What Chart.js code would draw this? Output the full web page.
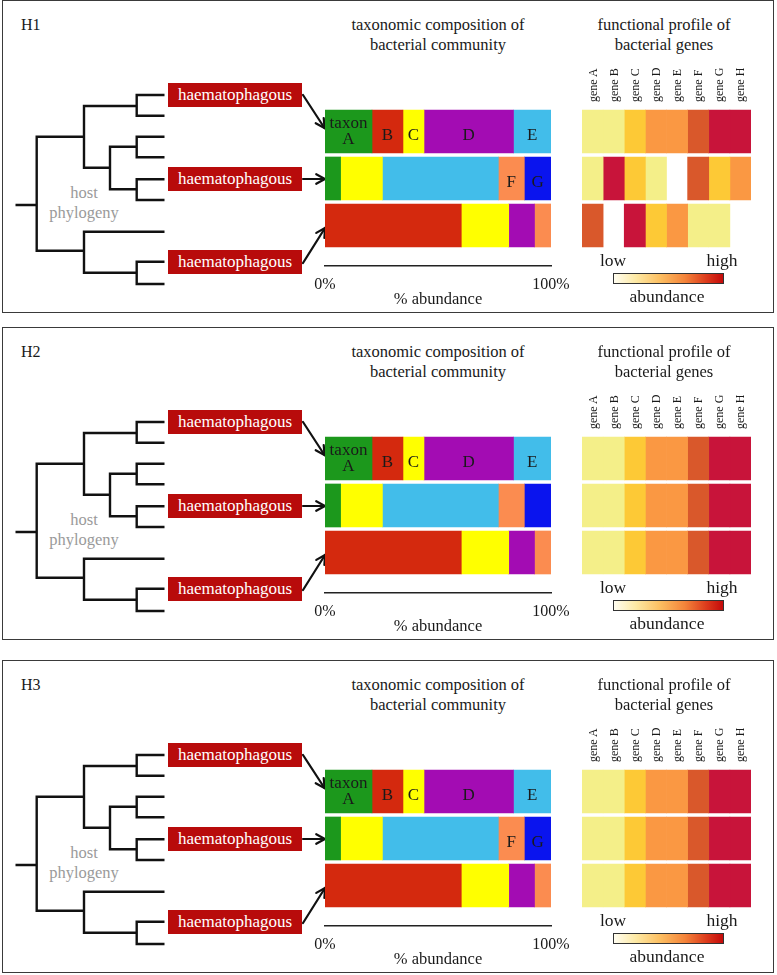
<!DOCTYPE html>
<html>
<head>
<meta charset="utf-8">
<script src="https://cdn.jsdelivr.net/npm/chart.js@4.4.1/dist/chart.umd.min.js"></script>
<style>
  body { margin: 0; background: #fff; font-family: "Liberation Serif", "Times New Roman", serif; color: #1a1a1a; }
  #page { position: relative; width: 777px; height: 975px; overflow: hidden; }
  .panel { position: absolute; left: 0; width: 777px; height: 316px; }
  .frame { position: absolute; left: 2px; top: 0; width: 772px; height: 313px; border: 1.5px solid #3a3a3a; box-sizing: border-box; }
  .t { position: absolute; white-space: nowrap; line-height: 1; transform: translate(-50%, -50%); }
  .host { position: absolute; left: 168px; width: 134px; height: 24px; background: #b80b0b; color: #fff;
          font-size: 17px; line-height: 24px; text-align: center; }
  .gene { position: absolute; top: 102px; font-size: 12px; line-height: 1; white-space: nowrap;
          transform-origin: 0 0; transform: rotate(-90deg) translateY(-50%); }
  .scale { position: absolute; left: 613px; top: 273px; width: 111px; height: 11px; box-sizing: border-box;
           border: 1px solid #333;
           background: linear-gradient(to right, #fffdf0, #fde9a4 20%, #fcbf62 42%, #f4843a 65%, #dc3a1c 85%, #c40a0a); }
  canvas { position: absolute; }
  svg { position: absolute; left: 0; top: 0; }
</style>
</head>
<body>
<div id="page"></div>
<script>
// --- data ---
const hypotheses = ['H1', 'H2', 'H3'];
const hostRows = [1, 2, 3];              // the three haematophagous hosts

const taxonNames = ['taxon\nA', 'B', 'C', 'D', 'E', 'F', 'G'];
const taxonColors = ['#1c981c', '#d4290e', '#ffff00', '#a30cb3', '#42bdea', '#fb8c50', '#0a14ee'];
// % abundance of each taxon in host 1, 2, 3
const abundA = [20.8, 6.9, null];
const abundB = [13.7, null, 60.3];
const abundC = [9.3, 18.5, 21.0];
const abundD = [39.6, null, 11.4];
const abundE = [16.6, 51.3, null];
const abundF = [null, 11.5, 7.3];
const abundG = [null, 11.8, null];
const abundance = [abundA, abundB, abundC, abundD, abundE, abundF, abundG];
const taxonTextRow = [0, 0, 0, 0, 0, 1, 1];   // bar in which the taxon letter is written
const labelSecondRow = [true, false, true];

const genes = ['gene A', 'gene B', 'gene C', 'gene D', 'gene E', 'gene F', 'gene G', 'gene H'];
// abundance level 0 (absent) .. 5 (high), one row per host
const heatH1 = [[1, 1, 2, 3, 3, 4, 5, 5], [1, 5, 2, 1, 0, 4, 2, 3], [4, 0, 5, 2, 3, 1, 1, 0]];
const heatH2 = [[1, 1, 2, 3, 3, 4, 5, 5], [1, 1, 2, 3, 3, 4, 5, 5], [1, 1, 2, 3, 3, 4, 5, 5]];
const heatH3 = [[1, 1, 2, 3, 3, 4, 5, 5], [1, 1, 2, 3, 3, 4, 5, 5], [1, 1, 2, 3, 3, 4, 5, 5]];
const heatByPanel = [heatH1, heatH2, heatH3];
const heatColors = ['rgba(0,0,0,0)', '#f4ef89', '#fdc936', '#fa9843', '#d9582b', '#c8143a'];

// --- layout ---
const panelTop = [0, 327, 660];
const rowMin = 0.33, rowMax = 3.862;   // hidden host axis, 47px per host

Chart.defaults.font.family = '"Liberation Serif", "Times New Roman", serif';
Chart.defaults.color = '#1a1a1a';
Chart.defaults.animation = false;

// letters written inside the composition bars
const segLabels = {
  id: 'segLabels',
  afterDatasetsDraw(chart, args, opts) {
    const ctx = chart.ctx;
    ctx.save();
    ctx.font = '17px "Liberation Serif", serif';
    ctx.fillStyle = '#1a1a1a';
    ctx.textAlign = 'center';
    ctx.textBaseline = 'middle';
    chart.data.datasets.forEach((ds, i) => {
      const row = taxonTextRow[i];
      if (row === 1 && !opts.row2) return;
      if (ds.data[row] == null) return;
      const bar = chart.getDatasetMeta(i).data[row];
      const cx = (bar.x + bar.base) / 2;
      const lines = taxonNames[i].split('\n');
      if (lines.length === 2) {
        ctx.fillText(lines[0], cx, bar.y - 8);
        ctx.fillText(lines[1], cx, bar.y + 8);
      } else {
        ctx.fillText(lines[0], cx, bar.y + 4);
      }
    });
    ctx.restore();
  }
};

// host axis: fixed range so that each host gets the same band
function hiddenRows() {
  return {
    type: 'linear', min: rowMin, max: rowMax, reverse: true, stacked: true, display: false,
    offset: false, bounds: 'data', grace: 0, beginAtZero: false,
    afterBuildTicks: s => {
      s.ticks = hostRows.map(v => ({ value: v }));
      s.min = rowMin;
      s.max = rowMax;
    }
  };
}

function compositionChart(canvas, row2) {
  return new Chart(canvas, {
    type: 'bar',
    data: {
      labels: hostRows,
      datasets: abundance.map((vals, i) => ({
        label: taxonNames[i],
        data: vals,
        backgroundColor: taxonColors[i],
        borderWidth: 0,
        barThickness: 43
      }))
    },
    options: {
      indexAxis: 'y',
      responsive: false,
      layout: { padding: { left: 30, right: 34, top: 0, bottom: 0 } },
      scales: {
        y: hiddenRows(),
        x: {
          type: 'linear', min: 0, max: 100, stacked: true, position: 'bottom',
          grid: { display: false, drawTicks: false },
          border: { display: true, color: '#222', width: 1.5 },
          ticks: { stepSize: 100, callback: v => v + '%', font: { size: 16 }, padding: 9, maxRotation: 0, color: '#1a1a1a' },
          title: { display: true, text: '% abundance', font: { size: 16.5 }, padding: 0, color: '#1a1a1a' },
          afterFit: s => { s.height = 44; }
        }
      },
      plugins: { legend: { display: false }, tooltip: { enabled: false }, segLabels: { row2: row2 } }
    },
    plugins: [segLabels]
  });
}

function profileChart(canvas, heat) {
  return new Chart(canvas, {
    type: 'bar',
    data: {
      labels: hostRows,
      datasets: genes.map((g, j) => ({
        label: g,
        data: hostRows.map(() => 1),
        backgroundColor: heat.map(r => heatColors[r[j]]),
        borderWidth: 0,
        barThickness: 43
      }))
    },
    options: {
      indexAxis: 'y',
      responsive: false,
      layout: { padding: 0 },
      scales: {
        y: hiddenRows(),
        x: { type: 'linear', min: 0, max: genes.length, stacked: true, display: false }
      },
      plugins: { legend: { display: false }, tooltip: { enabled: false } }
    }
  });
}

function addText(parent, text, x, y, size, extra) {
  const d = document.createElement('div');
  d.className = 't';
  d.textContent = text;
  d.style.left = x + 'px';
  d.style.top = y + 'px';
  d.style.fontSize = size + 'px';
  if (extra) Object.assign(d.style, extra);
  parent.appendChild(d);
  return d;
}

function addCanvas(parent, x, y, w, h) {
  const c = document.createElement('canvas');
  c.width = w; c.height = h;
  c.style.left = x + 'px'; c.style.top = y + 'px';
  parent.appendChild(c);
  return c;
}

// host tree, same in every panel
const treePath = [
  'M16.7 205 H36.7', 'M36.7 136.7 V250.7',
  'M36.7 136.7 H84', 'M84 106 V167.7',
  'M84 106 H136.7', 'M136.7 95 V115.7', 'M136.7 95 H163.3', 'M136.7 115.7 H163.3',
  'M84 167.7 H110', 'M110 146.7 V189.3',
  'M110 146.7 H136.7', 'M136.7 136.7 V157.3', 'M136.7 136.7 H163.3', 'M136.7 157.3 H163.3',
  'M110 189.3 H136.7', 'M136.7 179.3 V200', 'M136.7 179.3 H163.3', 'M136.7 200 H163.3',
  'M36.7 250.7 H84', 'M84 231.7 V272.7', 'M84 231.7 H163.3',
  'M84 272.7 H136.7', 'M136.7 261.7 V284', 'M136.7 261.7 H163.3', 'M136.7 284 H163.3'
].join(' ');

const hostBoxTop = [83, 167, 250];
const arrows = [[303, 95, 324.5, 128], [303, 179, 325, 179], [303, 263, 325, 228]];

function arrowSvg(a) {
  const [x1, y1, x2, y2] = a;
  const ang = Math.atan2(y2 - y1, x2 - x1);
  const len = 10, spread = 0.5;
  const p1 = [x2 - len * Math.cos(ang - spread), y2 - len * Math.sin(ang - spread)];
  const p2 = [x2 - len * Math.cos(ang + spread), y2 - len * Math.sin(ang + spread)];
  return `<line x1="${x1}" y1="${y1}" x2="${x2}" y2="${y2}" />` +
         `<polyline fill="none" points="${p1.join(',')} ${x2},${y2} ${p2.join(',')}" />`;
}

const page = document.getElementById('page');

hypotheses.forEach((h, p) => {
  const panel = document.createElement('div');
  panel.className = 'panel';
  panel.style.top = panelTop[p] + 'px';
  page.appendChild(panel);

  const frame = document.createElement('div');
  frame.className = 'frame';
  panel.appendChild(frame);

  addText(panel, h, 21, 25, 16, { transform: 'translate(0, -50%)' });

  // tree + arrows
  const svgNS = 'http://www.w3.org/2000/svg';
  const svg = document.createElementNS(svgNS, 'svg');
  svg.setAttribute('width', 777);
  svg.setAttribute('height', 316);
  svg.innerHTML =
    `<path d="${treePath}" stroke="#111" stroke-width="2.4" stroke-linecap="square" fill="none"/>` +
    `<g stroke="#111" stroke-width="2.2" stroke-linecap="round" stroke-linejoin="miter">` +
    arrows.map(arrowSvg).join('') + `</g>`;
  panel.appendChild(svg);

  addText(panel, 'host', 84, 193, 16.5, { color: '#9a9a9a' });
  addText(panel, 'phylogeny', 84, 213, 16.5, { color: '#9a9a9a' });

  hostBoxTop.forEach(t => {
    const b = document.createElement('div');
    b.className = 'host';
    b.style.top = t + 'px';
    b.textContent = 'haematophagous';
    panel.appendChild(b);
  });

  // titles
  addText(panel, 'taxonomic composition of', 438, 25, 16.5);
  addText(panel, 'bacterial community', 438, 45, 16.5);
  addText(panel, 'functional profile of', 664, 25, 16.5);
  addText(panel, 'bacterial genes', 664, 45, 16.5);

  compositionChart(addCanvas(panel, 295, 100, 290, 210), labelSecondRow[p]);

  const heatLeft = 582, heatWidth = 169;
  profileChart(addCanvas(panel, heatLeft, 100, heatWidth, 166), heatByPanel[p]);
  genes.forEach((g, j) => {
    const d = document.createElement('div');
    d.className = 'gene';
    d.textContent = g;
    d.style.left = (heatLeft + heatWidth / genes.length * (j + 0.5)) + 'px';
    panel.appendChild(d);
  });

  // colour key
  addText(panel, 'low', 613, 261, 17.5);
  addText(panel, 'high', 722, 261, 17.5);
  const key = document.createElement('div');
  key.className = 'scale';
  panel.appendChild(key);
  addText(panel, 'abundance', 667, 297, 17.5);
});
</script>
</body>
</html>
